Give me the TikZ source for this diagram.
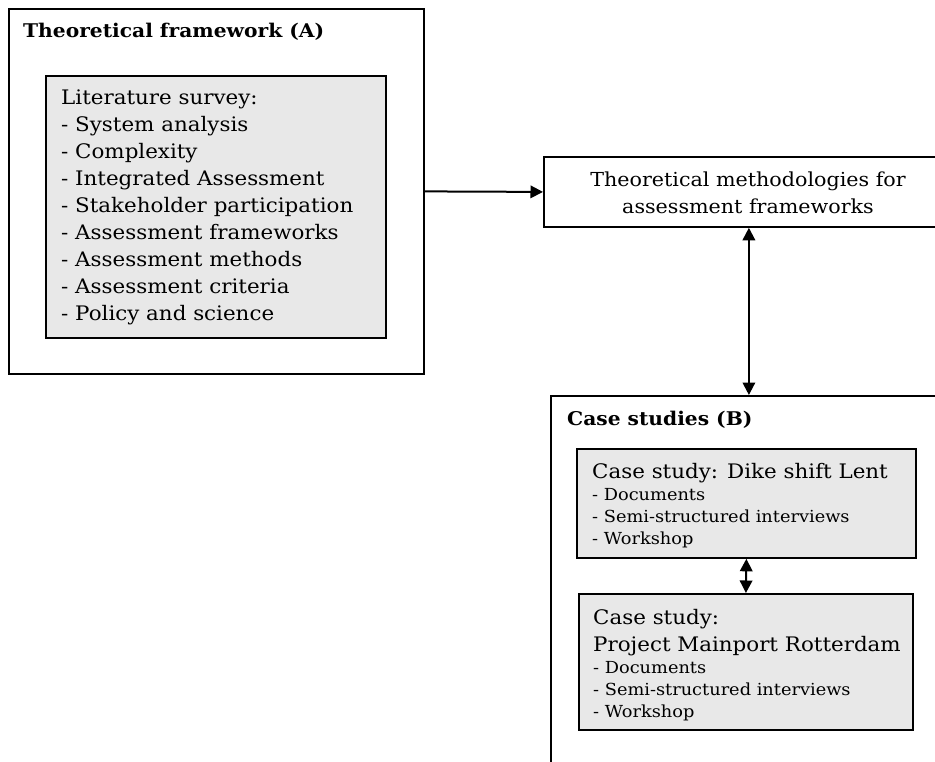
\documentclass[tikz,border=0pt]{standalone}
\usepackage{fontspec}
\setmainfont{DejaVu Serif}[FakeStretch=1.07]
\usetikzlibrary{arrows.meta,calc}
\definecolor{boxgray}{HTML}{E8E8E8}
\tikzset{
 frame/.style={draw,line width=1.8pt,anchor=north west,inner sep=0pt},
 graybox/.style={frame,fill=boxgray},
 big/.style={anchor=base west,inner sep=0pt,font=\fontsize{20}{24}\selectfont},
 bigc/.style={anchor=base,inner sep=0pt,font=\fontsize{19.3}{24}\selectfont},
 small/.style={anchor=base west,inner sep=0pt,font=\fontsize{16.6}{20}\selectfont},
 head/.style={anchor=base west,inner sep=0pt,font=\fontsize{18.9}{22}\selectfont\bfseries},
 tip/.tip={Triangle[length=12.5pt,width=12.5pt]},
 conn/.style={line width=2pt,-tip},
 bconn/.style={line width=2pt,tip-tip},
}
\begin{document}
\begin{tikzpicture}[x=1pt,y=-1pt]
\path[use as bounding box] (0,0) rectangle (935,761);
\clip (0,0) rectangle (935,761);
% Theoretical framework (A)
\node[frame,minimum width=415pt,minimum height=365pt] (A) at (8,8) {};
\node[head] (tA) at (23,37) {Theoretical framework (A)};
\node[graybox,minimum width=340pt,minimum height=262pt] (lit) at (45,75) {};
\node[big] (l0) at (61,104) {Literature survey:};
\foreach \t [count=\i] in {System analysis,Complexity,Integrated Assessment,Stakeholder participation,Assessment frameworks,Assessment methods,Assessment criteria,Policy and science}
  \node[big] (l\i) at (61,{104+27*\i}) {- \t};
% methodologies
\node[frame,minimum width=410pt,minimum height=70pt] (meth) at (543,156) {};
\node[bigc] (m1) at (748,186) {Theoretical methodologies for};
\node[bigc] (m2) at (748,213) {assessment frameworks};
% Case studies (B)
\node[frame,minimum width=396pt,minimum height=400pt] (B) at (550,395) {};
\node[head] (tB) at (567,425) {Case studies (B)};
\node[graybox,minimum width=339pt,minimum height=109pt] (c1) at (576,448) {};
\node[big] (c1t) at (592,478) {Case study: Dike shift Lent};
\node[small] (c1a) at (592,500) {- Documents};
\node[small] (c1b) at (592,522) {- Semi-structured interviews};
\node[small] (c1c) at (592,544) {- Workshop};
\node[graybox,minimum width=334pt,minimum height=136pt] (c2) at (578,593) {};
\node[big] (c2t) at (593,624) {Case study:};
\node[big] (c2u) at (593,651) {Project Mainport Rotterdam};
\node[small] (c2a) at (593,673) {- Documents};
\node[small] (c2b) at (593,695) {- Semi-structured interviews};
\node[small] (c2c) at (593,717) {- Workshop};
% connectors
\draw[conn] (A.east) -- (meth.west);
\draw[bconn] (meth.south) -- (B.north);
\draw[bconn] (c1.south) -- (c2.north);
\end{tikzpicture}
\end{document}
